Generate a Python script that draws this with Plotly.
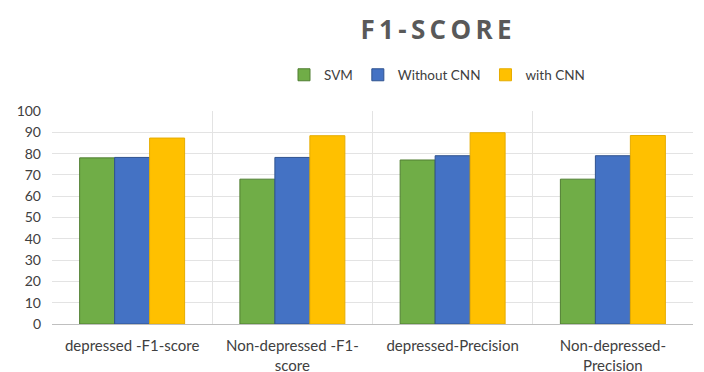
import plotly.graph_objects as go

categories = ["depressed -F1-score", "Non-depressed -F1-<br>score", "depressed-Precision", "Non-depressed-<br>Precision"]
svm = [78, 68, 77, 68]
without_cnn = [78.2, 78.2, 79, 79]
with_cnn = [87.3, 88.4, 89.8, 88.5]
y_ticks = [0, 10, 20, 30, 40, 50, 60, 70, 80, 90, 100]

series = [
    ("SVM", svm, "#70AD47", "#507E32"),
    ("Without CNN", without_cnn, "#4472C4", "#2F528F"),
    ("with CNN", with_cnn, "#FFC000", "#E6AC00"),
]

fig = go.Figure()
for name, vals, col, edge in series:
    fig.add_trace(go.Bar(
        x=categories, y=vals, name=name,
        marker=dict(color=col, line=dict(color=edge, width=1)),
    ))

title_text = "\u2009".join("F1-SCORE")

# page body has an 8px default margin; figure is sized to fill the rest
W, H = 696, 364
OFF = 8
fig.update_layout(
    width=W, height=H,
    margin=dict(l=52 - OFF, r=11, t=111 - OFF, b=48, autoexpand=False),
    paper_bgcolor="white", plot_bgcolor="white",
    barmode="group", bargap=0.345, bargroupgap=0,
    font=dict(family="Lato, Open Sans, sans-serif", color="#404040", size=13),
    title=dict(text="<b>" + title_text + "</b>", x=(436 - OFF) / W, xanchor="center",
               y=1 - (30 - OFF) / H, yanchor="middle", yref="container",
               font=dict(family="Open Sans, sans-serif", size=26, color="#595959")),
    legend=dict(orientation="h", x=(437 - 52) / (693 - 52), xanchor="center", xref="paper",
                y=1 - (75 - OFF) / H, yanchor="middle", yref="container",
                font=dict(size=13.5, color="#404040"), itemwidth=30, traceorder="normal",
                bgcolor="rgba(0,0,0,0)"),
    showlegend=True,
)
fig.update_xaxes(
    type="category", tickson="boundaries", showgrid=True, gridcolor="#E3E3E3", gridwidth=1,
    showline=True, linecolor="#BFBFBF", linewidth=1, ticks="", automargin=False,
    ticklabelstandoff=8,
    tickfont=dict(size=15, color="#404040"),
)
fig.update_yaxes(
    range=[0, 100], tickvals=y_ticks, showgrid=True, gridcolor="#E3E3E3", gridwidth=1,
    showline=False, zeroline=False, ticks="", automargin=False,
    ticklabelstandoff=10,
    tickfont=dict(size=14, color="#404040"),
)

fig.write_html("out.html")
